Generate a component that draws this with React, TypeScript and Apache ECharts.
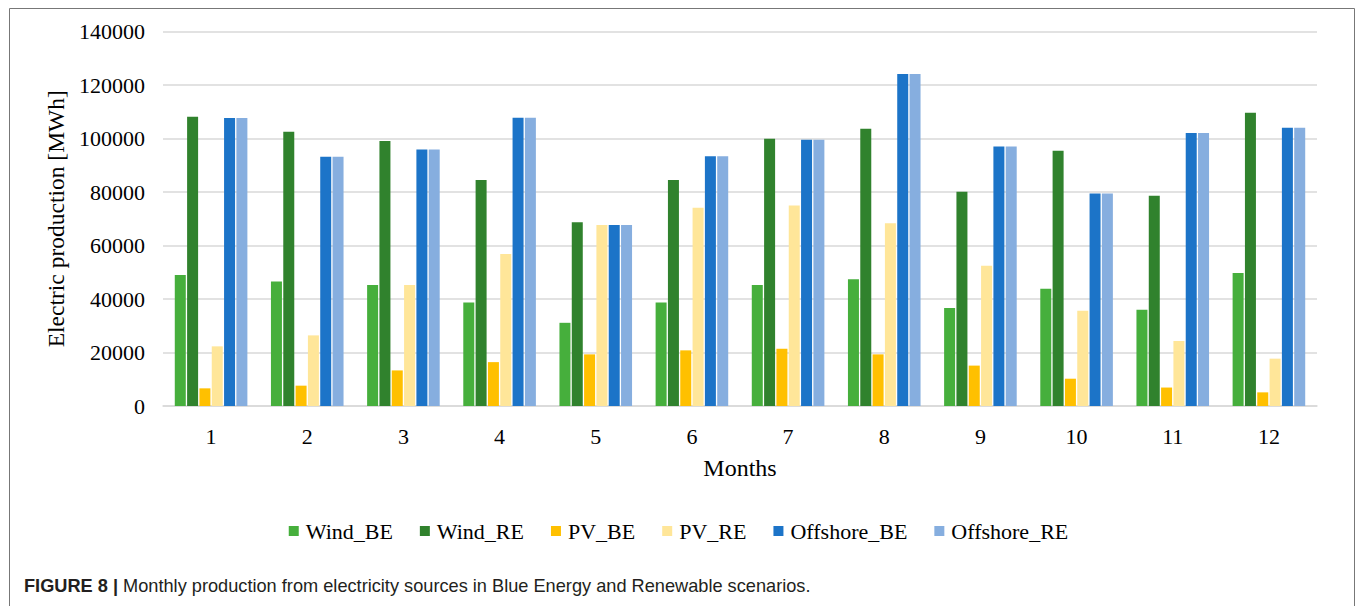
import React, { useEffect, useRef } from "react";
import * as echarts from "echarts";

const months = ["1", "2", "3", "4", "5", "6", "7", "8", "9", "10", "11", "12"];
const windBE = [49000, 46500, 45200, 38700, 31100, 38700, 45200, 47400, 36600, 43800, 36000, 49700];
const windRE = [108100, 102500, 99100, 84500, 68700, 84500, 99900, 103600, 80100, 95400, 78600, 109600];
const pvBE = [6600, 7600, 13300, 16400, 19300, 20800, 21400, 19300, 15100, 10200, 6900, 5100];
const pvRE = [22300, 26400, 45200, 56800, 67700, 74100, 75000, 68300, 52400, 35600, 24300, 17700];
const offshoreBE = [107700, 93200, 95900, 107800, 67700, 93400, 99500, 124100, 97000, 79400, 102100, 104000];
const offshoreRE = [107700, 93200, 95900, 107800, 67700, 93400, 99500, 124100, 97000, 79400, 102100, 104000];

const seriesNames = ["Wind_BE", "Wind_RE", "PV_BE", "PV_RE", "Offshore_BE", "Offshore_RE"];
const seriesData = [windBE, windRE, pvBE, pvRE, offshoreBE, offshoreRE];
const seriesColors = ["#46AF3C", "#30822D", "#FFC000", "#FFE699", "#1C74C8", "#86AEDF"];

const serif = "'Liberation Serif', 'Times New Roman', serif";
const sans = "'Liberation Sans', Arial, sans-serif";

export default function App() {
  const ref = useRef<HTMLDivElement>(null);
  useEffect(() => {
    if (!ref.current) return;
    const chart = echarts.init(ref.current, null, { renderer: "svg" });
    chart.setOption({
      animation: false,
      backgroundColor: "#ffffff",
      grid: { left: 163, right: 40, top: 31.5, bottom: 200, containLabel: false },
      xAxis: {
        type: "category",
        data: months,
        name: "Months",
        nameLocation: "middle",
        nameGap: 50,
        nameTextStyle: { fontFamily: serif, fontSize: 24, color: "#000" },
        axisLine: { lineStyle: { color: "#d9d9d9", width: 1.5 } },
        axisTick: { show: false },
        axisLabel: { fontFamily: serif, fontSize: 22, color: "#000", margin: 19 },
      },
      yAxis: {
        type: "value",
        min: 0,
        max: 140000,
        interval: 20000,
        name: "Electric production [MWh]",
        nameLocation: "middle",
        nameGap: 95,
        nameTextStyle: { fontFamily: serif, fontSize: 23.5, color: "#000" },
        axisLine: { show: false },
        axisTick: { show: false },
        axisLabel: {
          fontFamily: serif,
          fontSize: 22,
          color: "#000",
          margin: 18,
          formatter: (v: number) => String(v),
        },
        splitLine: { lineStyle: { color: "#d9d9d9", width: 1.5 } },
      },
      legend: {
        data: seriesNames,
        left: "center",
        top: 515,
        itemWidth: 10,
        itemHeight: 10,
        itemGap: 27,
        icon: "rect",
        textStyle: { fontFamily: serif, fontSize: 22, color: "#000", padding: [0, 0, 0, 2] },
      },
      series: seriesNames.map((name, i) => ({
        name,
        type: "bar",
        data: seriesData[i],
        barWidth: 11,
        barGap: "12%",
        itemStyle: { color: seriesColors[i] },
      })),
      graphic: [
        {
          type: "polyline",
          shape: { points: [[9.5, 610], [9.5, 8.5], [1354.5, 8.5], [1354.5, 610]] },
          style: { stroke: "#777777", lineWidth: 1, fill: "none" },
          silent: true,
        },
        {
          type: "text",
          left: 24,
          top: 577,
          style: {
            text: "{b|FIGURE 8 |} Monthly production from electricity sources in Blue Energy and Renewable scenarios.",
            fontFamily: sans,
            fontSize: 18.2,
            fill: "#231f20",
            rich: {
              b: { fontFamily: sans, fontSize: 18.2, fontWeight: "bold", fill: "#231f20" },
            },
          },
        },
      ],
    });
    return () => chart.dispose();
  }, []);
  return (
    <div
      ref={ref}
      style={{ position: "fixed", left: 0, top: 0, width: 1357, height: 606, background: "#fff" }}
    />
  );
}
